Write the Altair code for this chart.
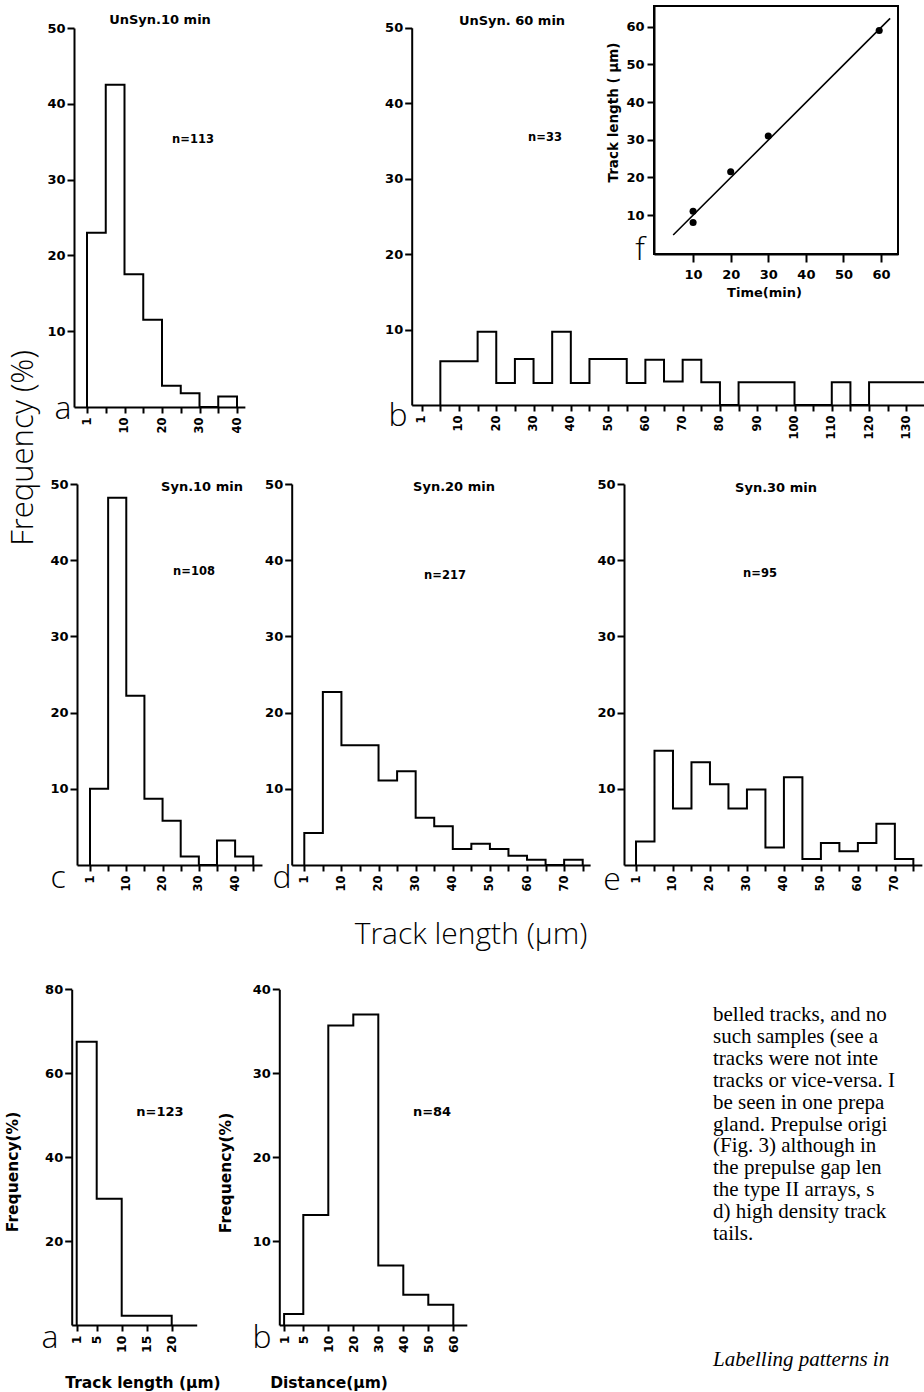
import altair as alt
import pandas as pd

W, H = 924, 1392

# ---------------- data ----------------
unsyn10_edges = [1, 5, 10, 15, 20, 25, 30, 35, 40]
unsyn10_freq = [23.0, 42.5, 17.5, 11.5, 2.8, 1.8, 0.0, 1.4]

unsyn60_edges = [5, 10, 15, 20, 25, 30, 35, 40, 45, 50, 55, 60, 65, 70, 75, 80,
                 85, 90, 95, 100, 105, 110, 115, 120, 125, 130, 135, 140]
unsyn60_freq = [5.8, 5.8, 9.7, 2.9, 6.1, 2.9, 9.7, 2.9, 6.1, 6.1, 2.9, 6.0, 3.1, 6.0,
                3.0, 0.0, 3.0, 3.0, 3.0, 0.0, 0.0, 3.0, 0.0, 3.0, 3.0, 3.0, 3.0]

syn10_edges = [1, 5, 10, 15, 20, 25, 30, 35, 40, 45]
syn10_freq = [10.0, 48.2, 22.2, 8.7, 5.8, 1.1, 0.0, 3.2, 1.1]

syn20_edges = [1, 5, 10, 15, 20, 25, 30, 35, 40, 45, 50, 55, 60, 65, 70, 75]
syn20_freq = [4.2, 22.7, 15.7, 15.7, 11.1, 12.3, 6.2, 5.1, 2.1, 2.8, 2.1, 1.2, 0.7, 0.0, 0.7]

syn30_edges = [1, 5, 10, 15, 20, 25, 30, 35, 40, 45, 50, 55, 60, 65, 70, 75]
syn30_freq = [3.1, 15.0, 7.4, 13.5, 10.6, 7.4, 9.9, 2.3, 11.5, 0.8, 2.9, 1.8, 2.9, 5.4, 0.8]

prepulse_edges = [1, 5, 10, 20]
prepulse_freq = [67.5, 30.1, 2.2]

distance_edges = [1, 5, 10, 20, 30, 40, 50, 60]
distance_freq = [1.3, 13.1, 35.7, 37.0, 7.1, 3.6, 2.4]

inset_time = [10, 10, 20, 30, 59.5]
inset_length = [11.0, 8.0, 21.5, 31.0, 59.0]
fit_time = [4.7, 62.4]
fit_length = [4.7, 62.2]

ticks_40 = [1, 5, 10, 15, 20, 25, 30, 35, 40]
ticks_45 = [1, 5, 10, 15, 20, 25, 30, 35, 40, 45]
ticks_75 = [1, 5, 10, 15, 20, 25, 30, 35, 40, 45, 50, 55, 60, 65, 70, 75]
ticks_135 = [1, 5, 10, 15, 20, 25, 30, 35, 40, 45, 50, 55, 60, 65, 70, 75, 80,
             85, 90, 95, 100, 105, 110, 115, 120, 125, 130, 135]
ticks_pre = [1, 5, 10, 15, 20]
ticks_dist = [1, 5, 10, 20, 30, 40, 50, 60]
freq_ticks_50 = [10, 20, 30, 40, 50]
freq_ticks_80 = [20, 40, 60, 80]
freq_ticks_40 = [10, 20, 30, 40]
inset_ticks = [10, 20, 30, 40, 50, 60]

paragraph = [
    "belled tracks, and no",
    "such samples (see a",
    "tracks were not inte",
    "tracks or vice-versa. I",
    "be seen in one prepa",
    "gland. Prepulse origi",
    "(Fig. 3) although in",
    "the prepulse gap len",
    "the type II arrays, s",
    "d) high density track",
    "tails.",
]
heading = "Labelling patterns in"

# ---------------- style ----------------
TICK_FONT = "DejaVu Sans"
THIN_FONT = "Open Sans"
LABEL_EXPR = "datum.value == 1 || datum.value % 10 == 0 ? datum.label : ''"


def step_frame(edges, freq):
    xs = [edges[0]] + list(edges[:-1]) + [edges[-1]]
    ys = [0.0] + list(freq) + [0.0]
    return pd.DataFrame({"x": xs, "y": ys, "o": list(range(len(xs)))})


def piece_x(axis_px, first_px, step_px, end_val):
    k = step_px / 5.0
    dom = [0, 1, 5, end_val]
    rng = [axis_px, first_px, first_px + step_px, first_px + step_px + (end_val - 5) * k]
    return dom, rng


def hist(edges, freq, xdom, xrng, ydom, yrng, xticks, yticks, label_expr=None,
         xlab_size=11.5):
    df = step_frame(edges, freq)
    xaxis_kw = dict(orient="bottom", offset=yrng[0] - H, values=xticks, labelAngle=270,
                    title=None, tickSize=6, labelPadding=4, labelFontSize=xlab_size)
    if label_expr:
        xaxis_kw["labelExpr"] = label_expr
    return alt.Chart(df).mark_line(
        interpolate="step-after", color="black", strokeWidth=2, strokeJoin="miter"
    ).encode(
        x=alt.X("x:Q", scale=alt.Scale(domain=xdom, range=xrng, nice=False, zero=False),
                axis=alt.Axis(**xaxis_kw)),
        y=alt.Y("y:Q", scale=alt.Scale(domain=ydom, range=yrng, nice=False, zero=False),
                axis=alt.Axis(orient="left", offset=-xrng[0], values=yticks, title=None,
                              tickSize=7, labelPadding=2)),
        order="o:Q",
    )


def txt(s, x, y, size=13, font=TICK_FONT, weight="bold", angle=0, align="center",
        baseline="middle", style="normal", line_height=None):
    kw = dict(align=align, baseline=baseline, fontSize=size, font=font,
              fontWeight=weight, angle=angle, color="black", fontStyle=style)
    if line_height:
        kw["lineBreak"] = "\n"
        kw["lineHeight"] = line_height
    return alt.Chart(pd.DataFrame({"t": [s]})).mark_text(**kw).encode(
        text="t:N", x=alt.value(x), y=alt.value(y))


layers = []

# Row 1
dA, rA = piece_x(74, 87, 18.75, 42.1)
layers.append(hist(unsyn10_edges, unsyn10_freq, dA, rA, [0, 50], [407, 28],
                   ticks_40, freq_ticks_50, LABEL_EXPR))
dB, rB = piece_x(411.7, 421.7, 18.64, 140)
layers.append(hist(unsyn60_edges, unsyn60_freq, dB, rB, [0, 50], [405, 27.7],
                   ticks_135, freq_ticks_50, LABEL_EXPR))

# Row 2
dC, rC = piece_x(77, 90, 18.14, 47.4)
layers.append(hist(syn10_edges, syn10_freq, dC, rC, [0, 50], [865, 484],
                   ticks_45, freq_ticks_50, LABEL_EXPR))
dD, rD = piece_x(291.7, 304.3, 18.56, 77)
layers.append(hist(syn20_edges, syn20_freq, dD, rD, [0, 50], [865, 484],
                   ticks_75, freq_ticks_50, LABEL_EXPR))
dE, rE = piece_x(624, 636, 18.49, 77.3)
layers.append(hist(syn30_edges, syn30_freq, dE, rE, [0, 50], [865, 484],
                   ticks_75, freq_ticks_50, LABEL_EXPR))

# Row 3
layers.append(hist(prepulse_edges, prepulse_freq, [0, 25], [71.7, 196.7], [0, 80],
                   [1325, 989.3], ticks_pre, freq_ticks_80, xlab_size=12.5))
layers.append(hist(distance_edges, distance_freq, [0, 5, 10, 65.4],
                   [279.3, 303.3, 328.3, 466.8], [0, 40], [1325, 989.3],
                   ticks_dist, freq_ticks_40, xlab_size=12.5))

# Inset f
ix_dom, ix_rng = [-0.4, 64.5], [654, 898]
iy_dom, iy_rng = [-0.35, 65.5], [254, 6]
ix = alt.X("t:Q", scale=alt.Scale(domain=ix_dom, range=ix_rng, nice=False, zero=False),
           axis=alt.Axis(orient="bottom", offset=iy_rng[0] - H, values=inset_ticks,
                         labelAngle=0, title="Time(min)", tickSize=8, labelPadding=6,
                         titlePadding=5, labelFontSize=13, titleFontSize=13,
                         titleFontWeight="bold", titleFont=TICK_FONT, titleX=764))
iy = alt.Y("v:Q", scale=alt.Scale(domain=iy_dom, range=iy_rng, nice=False, zero=False),
           axis=alt.Axis(orient="left", offset=-ix_rng[0], values=inset_ticks,
                         title="Track length ( µm)", tickSize=7, labelPadding=3,
                         titlePadding=5, labelFontSize=13, titleFontSize=13.5,
                         titleFontWeight="bold", titleFont=TICK_FONT, titleY=112))
pts = alt.Chart(pd.DataFrame({"t": inset_time, "v": inset_length})).mark_circle(
    size=50, color="black", opacity=1).encode(x=ix, y=iy)
fit = alt.Chart(pd.DataFrame({"t": fit_time, "v": fit_length})).mark_line(
    color="black", strokeWidth=1.6).encode(x="t:Q", y="v:Q")
frame = alt.Chart(pd.DataFrame({"t": [ix_dom[0]], "t2": [ix_dom[1]],
                                "v": [iy_dom[0]], "v2": [iy_dom[1]]})).mark_rect(
    fillOpacity=0, stroke="black", strokeWidth=2).encode(
    x="t:Q", x2="t2:Q", y="v:Q", y2="v2:Q")
layers.append(alt.layer(frame, fit, pts))

# Annotations
BIG = dict(font=THIN_FONT, weight=300)
layers += [
    txt("UnSyn.10 min", 160, 20),
    txt("UnSyn. 60 min", 512, 21),
    txt("n=113", 193, 140, size=11.5),
    txt("n=33", 545, 138, size=11.5),
    txt("Syn.10 min", 202, 487),
    txt("Syn.20 min", 454, 487),
    txt("Syn.30 min", 776, 488),
    txt("n=108", 194, 572, size=11.5),
    txt("n=217", 445, 576, size=11.5),
    txt("n=95", 760, 574, size=11.5),
    txt("n=123", 160, 1112, size=13),
    txt("n=84", 432, 1112, size=13),
    txt("Frequency (%)", 33, 448, size=31, angle=270, baseline="alphabetic", **BIG),
    txt("Track length (µm)", 471, 935, size=30, **BIG),
    txt("Frequency(%)", 13, 1172, size=15.5, angle=270),
    txt("Frequency(%)", 226, 1173, size=15.5, angle=270),
    txt("Track  length (µm)", 143, 1383, size=15.5),
    txt("Distance(µm)", 329, 1383, size=15.5),
    txt("a", 63, 409, size=32, **BIG),
    txt("b", 398, 416, size=32, **BIG),
    txt("c", 58, 878, size=32, **BIG),
    txt("d", 282, 878, size=32, **BIG),
    txt("e", 612, 880, size=32, **BIG),
    txt("f", 640, 250, size=32, **BIG),
    txt("a", 50, 1338, size=32, **BIG),
    txt("b", 262, 1338, size=32, **BIG),
    txt("\n".join(paragraph), 713, 1021, size=21, font="Liberation Serif",
        weight="normal", align="left", baseline="alphabetic", line_height=21.9),
    txt(heading, 713, 1366, size=21, font="Liberation Serif", weight="normal",
        align="left", baseline="alphabetic", style="italic"),
]

chart = alt.layer(*layers).resolve_scale(
    x="independent", y="independent"
).properties(
    width=W, height=H, autosize=alt.AutoSizeParams(type="none"), padding=0,
    background="white",
).configure_view(strokeWidth=0).configure_axis(
    grid=False, domainColor="black", domainWidth=2, tickColor="black", tickWidth=2,
    labelColor="black", labelFont=TICK_FONT, labelFontWeight="bold",
    labelFontSize=13, labelFlush=False, labelOverlap=False, titleColor="black",
)

chart.save("out.html", embed_options={"renderer": "svg", "actions": False})
